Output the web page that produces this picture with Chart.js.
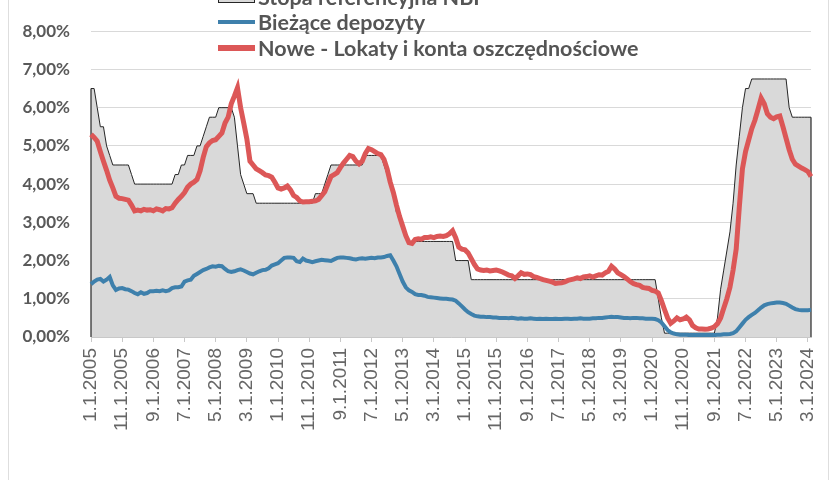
<!DOCTYPE html>
<html>
<head>
<meta charset="utf-8">
<script src="https://cdn.jsdelivr.net/npm/chart.js@4.4.1/dist/chart.umd.min.js"></script>
<style>
  html, body { margin: 0; padding: 0; background: #fff; }
  #wrap { position: relative; width: 840px; height: 480px; overflow: hidden; }
  #frame { position: absolute; left: 8px; top: 0; width: 821px; height: 480px;
           border-left: 1px solid #dedede; border-right: 1px solid #dedede; box-sizing: border-box; }
  #legend { position: absolute; left: 218px; top: -16px; font-family: Lato, sans-serif;
            font-weight: bold; font-size: 21.5px; color: #555; }
  .item { height: 25.5px; display: flex; align-items: center; white-space: nowrap; }
  .sym { width: 37px; margin-right: 3px; box-sizing: border-box; }
</style>
</head>
<body>
<div id="wrap">
  <div id="frame"></div>
  <canvas id="chart" width="840" height="480"></canvas>
  <div id="legend"></div>
</div>
<script>
// monthly series, January 2005 - April 2024
const startYear = 2005;
const monthCount = 232;

const seriesNames = ['Stopa referencyjna NBP', 'Bieżące depozyty', 'Nowe - Lokaty i konta oszczędnościowe'];

const refRate = [
  6.5, 6.5, 6.0, 5.5, 5.5, 5.0, 4.75, 4.5, 4.5, 4.5, 4.5, 4.5,
  4.5, 4.25, 4.0, 4.0, 4.0, 4.0, 4.0, 4.0, 4.0, 4.0, 4.0, 4.0,
  4.0, 4.0, 4.0, 4.25, 4.25, 4.5, 4.5, 4.75, 4.75, 4.75, 5.0, 5.0,
  5.25, 5.5, 5.75, 5.75, 5.75, 6.0, 6.0, 6.0, 6.0, 6.0, 5.75, 5.0,
  4.25, 4.0, 3.75, 3.75, 3.75, 3.5, 3.5, 3.5, 3.5, 3.5, 3.5, 3.5,
  3.5, 3.5, 3.5, 3.5, 3.5, 3.5, 3.5, 3.5, 3.5, 3.5, 3.5, 3.5,
  3.75, 3.75, 3.75, 4.0, 4.25, 4.5, 4.5, 4.5, 4.5, 4.5, 4.5, 4.5,
  4.5, 4.5, 4.5, 4.5, 4.75, 4.75, 4.75, 4.75, 4.75, 4.75, 4.5, 4.25,
  4.0, 3.75, 3.25, 3.25, 3.0, 2.75, 2.5, 2.5, 2.5, 2.5, 2.5, 2.5,
  2.5, 2.5, 2.5, 2.5, 2.5, 2.5, 2.5, 2.5, 2.5, 2.0, 2.0, 2.0,
  2.0, 2.0, 1.5, 1.5, 1.5, 1.5, 1.5, 1.5, 1.5, 1.5, 1.5, 1.5,
  1.5, 1.5, 1.5, 1.5, 1.5, 1.5, 1.5, 1.5, 1.5, 1.5, 1.5, 1.5,
  1.5, 1.5, 1.5, 1.5, 1.5, 1.5, 1.5, 1.5, 1.5, 1.5, 1.5, 1.5,
  1.5, 1.5, 1.5, 1.5, 1.5, 1.5, 1.5, 1.5, 1.5, 1.5, 1.5, 1.5,
  1.5, 1.5, 1.5, 1.5, 1.5, 1.5, 1.5, 1.5, 1.5, 1.5, 1.5, 1.5,
  1.5, 1.5, 1.0, 0.5, 0.1, 0.1, 0.1, 0.1, 0.1, 0.1, 0.1, 0.1,
  0.1, 0.1, 0.1, 0.1, 0.1, 0.1, 0.1, 0.1, 0.1, 0.5, 1.25, 1.75,
  2.25, 2.75, 3.5, 4.5, 5.25, 6.0, 6.5, 6.5, 6.75, 6.75, 6.75, 6.75,
  6.75, 6.75, 6.75, 6.75, 6.75, 6.75, 6.75, 6.75, 6.0, 5.75, 5.75, 5.75,
  5.75, 5.75, 5.75, 5.75
];

const currentDeposits = [
  1.38, 1.45, 1.50, 1.52, 1.45, 1.50, 1.57, 1.35, 1.23, 1.27, 1.28, 1.25,
  1.24, 1.20, 1.15, 1.12, 1.17, 1.13, 1.15, 1.20, 1.20, 1.21, 1.20, 1.22,
  1.20, 1.22, 1.28, 1.30, 1.30, 1.32, 1.45, 1.48, 1.50, 1.60, 1.65, 1.70,
  1.75, 1.78, 1.82, 1.85, 1.84, 1.86, 1.85, 1.78, 1.72, 1.70, 1.72, 1.75,
  1.77, 1.74, 1.70, 1.66, 1.64, 1.68, 1.72, 1.75, 1.76, 1.80, 1.87, 1.90,
  1.93, 2.00, 2.07, 2.08, 2.08, 2.07, 1.98, 1.96, 2.05, 2.00, 1.98, 1.96,
  1.98, 2.00, 2.02, 2.01, 2.00, 1.99, 2.03, 2.07, 2.08, 2.08, 2.07, 2.06,
  2.04, 2.03, 2.05, 2.06, 2.05, 2.06, 2.07, 2.06, 2.08, 2.08, 2.09, 2.12,
  2.14, 2.00, 1.85, 1.65, 1.45, 1.30, 1.22, 1.18, 1.12, 1.10, 1.10, 1.08,
  1.05, 1.04, 1.03, 1.02, 1.01, 1.00, 1.00, 0.99, 0.98, 0.95, 0.88, 0.80,
  0.72, 0.65, 0.60, 0.56, 0.54, 0.53, 0.53, 0.52, 0.52, 0.51, 0.51, 0.50,
  0.50, 0.50, 0.49, 0.50, 0.49, 0.48, 0.49, 0.48, 0.48, 0.49, 0.48, 0.47,
  0.48, 0.47, 0.48, 0.47, 0.47, 0.48, 0.47, 0.47, 0.48, 0.48, 0.47, 0.48,
  0.48, 0.49, 0.48, 0.48, 0.48, 0.49, 0.49, 0.50, 0.50, 0.51, 0.52, 0.53,
  0.52, 0.52, 0.51, 0.50, 0.50, 0.49, 0.50, 0.50, 0.49, 0.49, 0.48, 0.48,
  0.48, 0.47, 0.44, 0.38, 0.28, 0.18, 0.12, 0.09, 0.07, 0.06, 0.06, 0.06,
  0.05, 0.05, 0.05, 0.05, 0.05, 0.05, 0.05, 0.05, 0.05, 0.06, 0.06, 0.07,
  0.07, 0.08, 0.10, 0.15, 0.25, 0.35, 0.45, 0.52, 0.58, 0.63, 0.70, 0.77,
  0.83, 0.86, 0.88, 0.89, 0.90, 0.90, 0.89, 0.87, 0.82, 0.77, 0.73, 0.71,
  0.70, 0.70, 0.70, 0.71
];

const newSavings = [
  5.30, 5.22, 5.12, 4.85, 4.60, 4.36, 4.10, 3.90, 3.68, 3.63, 3.62, 3.60,
  3.58, 3.45, 3.30, 3.32, 3.30, 3.34, 3.32, 3.33, 3.30, 3.35, 3.33, 3.30,
  3.36, 3.35, 3.38, 3.50, 3.60, 3.68, 3.78, 3.92, 4.00, 4.05, 4.12, 4.35,
  4.70, 4.98, 5.08, 5.14, 5.16, 5.25, 5.34, 5.60, 5.75, 6.10, 6.30, 6.52,
  6.00, 5.60, 5.18, 4.60, 4.50, 4.40, 4.35, 4.30, 4.24, 4.22, 4.18, 4.05,
  3.90, 3.87, 3.90, 3.95, 3.85, 3.70, 3.65, 3.56, 3.53, 3.54, 3.54, 3.55,
  3.56, 3.60, 3.70, 3.80, 4.00, 4.20, 4.25, 4.30, 4.43, 4.55, 4.65, 4.75,
  4.72, 4.60, 4.53, 4.60, 4.80, 4.93, 4.90, 4.85, 4.80, 4.77, 4.65, 4.40,
  4.05, 3.78, 3.45, 3.15, 2.90, 2.65, 2.47, 2.45, 2.55, 2.57, 2.56, 2.60,
  2.60, 2.62, 2.60, 2.63, 2.64, 2.63, 2.65, 2.70, 2.78, 2.60, 2.35, 2.30,
  2.28, 2.20, 2.05, 1.90, 1.78, 1.75, 1.74, 1.75, 1.73, 1.74, 1.75, 1.73,
  1.70, 1.66, 1.62, 1.60, 1.53, 1.60, 1.68, 1.64, 1.65, 1.63, 1.58, 1.56,
  1.53, 1.50, 1.48, 1.46, 1.44, 1.40, 1.41, 1.42, 1.44, 1.48, 1.50, 1.52,
  1.55, 1.53, 1.57, 1.58, 1.60, 1.57, 1.60, 1.63, 1.62, 1.68, 1.72, 1.85,
  1.78, 1.68, 1.63, 1.58, 1.52, 1.45, 1.40, 1.37, 1.35, 1.30, 1.28, 1.27,
  1.22, 1.20, 1.15, 0.95, 0.72, 0.50, 0.36, 0.42, 0.50, 0.45, 0.47, 0.52,
  0.45, 0.30, 0.24, 0.21, 0.21, 0.20, 0.21, 0.23, 0.27, 0.35, 0.50, 0.75,
  1.00, 1.30, 1.75, 2.30, 3.40, 4.40, 4.85, 5.15, 5.45, 5.67, 5.95, 6.25,
  6.10, 5.84, 5.75, 5.71, 5.76, 5.78, 5.50, 5.20, 4.90, 4.65, 4.52, 4.47,
  4.42, 4.38, 4.33, 4.20
];

// category labels "M.1.YYYY"
const monthLabels = [];
for (let i = 0; i < monthCount; i++) {
    const y = startYear + Math.floor(i / 12);
    monthLabels.push((i % 12 + 1) + '.1.' + y);
}
const labelEvery = 10;

const colors = {
    area: '#d9d9d9',
    areaLine: '#262626',
    blue: '#3e80ac',
    red: '#dc5757',
    text: '#595959'
};

// the area outline in the original also has vertical edges at both ends
const areaEdges = {
    id: 'areaEdges',
    afterDatasetDraw(chart, args) {
        if (args.index !== 0) return;
        const pts = args.meta.data;
        const base = chart.scales.y.getPixelForValue(0);
        const ctx = chart.ctx;
        ctx.save();
        ctx.strokeStyle = colors.areaLine;
        ctx.lineWidth = 1.2;
        [pts[0], pts[pts.length - 1]].forEach(p => {
            ctx.beginPath();
            ctx.moveTo(p.x, p.y);
            ctx.lineTo(p.x, base);
            ctx.stroke();
        });
        ctx.restore();
    }
};

const chart = new Chart(document.getElementById('chart'), {
    type: 'line',
    data: {
        labels: monthLabels,
        datasets: [
            {
                label: seriesNames[0],
                data: refRate,
                borderColor: colors.areaLine,
                borderWidth: 1,
                backgroundColor: colors.area,
                fill: 'origin',
                pointRadius: 0,
                tension: 0,
                order: 3
            },
            {
                label: seriesNames[1],
                data: currentDeposits,
                borderColor: colors.blue,
                borderWidth: 4,
                fill: false,
                pointRadius: 0,
                tension: 0,
                order: 2
            },
            {
                label: seriesNames[2],
                data: newSavings,
                borderColor: colors.red,
                borderWidth: 5,
                fill: false,
                pointRadius: 0,
                tension: 0,
                order: 1
            }
        ]
    },
    options: {
        responsive: false,
        animation: false,
        layout: { padding: { left: 0, right: 29, top: 12, bottom: 0 } },
        plugins: {
            legend: { display: false },
            tooltip: { enabled: false }
        },
        scales: {
            x: {
                ticks: {
                    autoSkip: false,
                    maxRotation: 90,
                    minRotation: 90,
                    padding: 6,
                    color: '#666',
                    font: { family: 'Liberation Sans, Arial, sans-serif', size: 19 },
                    callback: function (val, idx) {
                        return idx % labelEvery === 0 ? this.getLabelForValue(val) : null;
                    }
                },
                grid: { drawOnChartArea: false, drawTicks: true, tickLength: 5, color: '#c8c8c8' },
                border: { color: '#c8c8c8' },
                afterFit: s => { s.height = 143; }
            },
            y: {
                min: 0,
                max: 8,
                ticks: {
                    stepSize: 1,
                    padding: 21,
                    color: colors.text,
                    font: { family: 'Lato, sans-serif', size: 17, weight: 'bold' },
                    callback: v => v.toFixed(2).replace('.', ',') + '%'
                },
                grid: { color: '#d9d9d9', drawTicks: false },
                border: { display: false },
                afterFit: s => { s.width = 91; }
            }
        }
    },
    plugins: [areaEdges]
});

// legend drawn as html on top of the plot
const legendEl = document.getElementById('legend');
chart.data.datasets.forEach((ds, i) => {
    const row = document.createElement('div');
    row.className = 'item';
    const sym = document.createElement('div');
    sym.className = 'sym';
    if (i === 0) {
        sym.style.height = '12px';
        sym.style.background = ds.backgroundColor;
        sym.style.border = '1.5px solid ' + ds.borderColor;
    } else {
        sym.style.height = (i === 1 ? 4 : 6) + 'px';
        sym.style.background = ds.borderColor;
    }
    const txt = document.createElement('span');
    txt.textContent = ds.label;
    row.appendChild(sym);
    row.appendChild(txt);
    legendEl.appendChild(row);
});
</script>
</body>
</html>
